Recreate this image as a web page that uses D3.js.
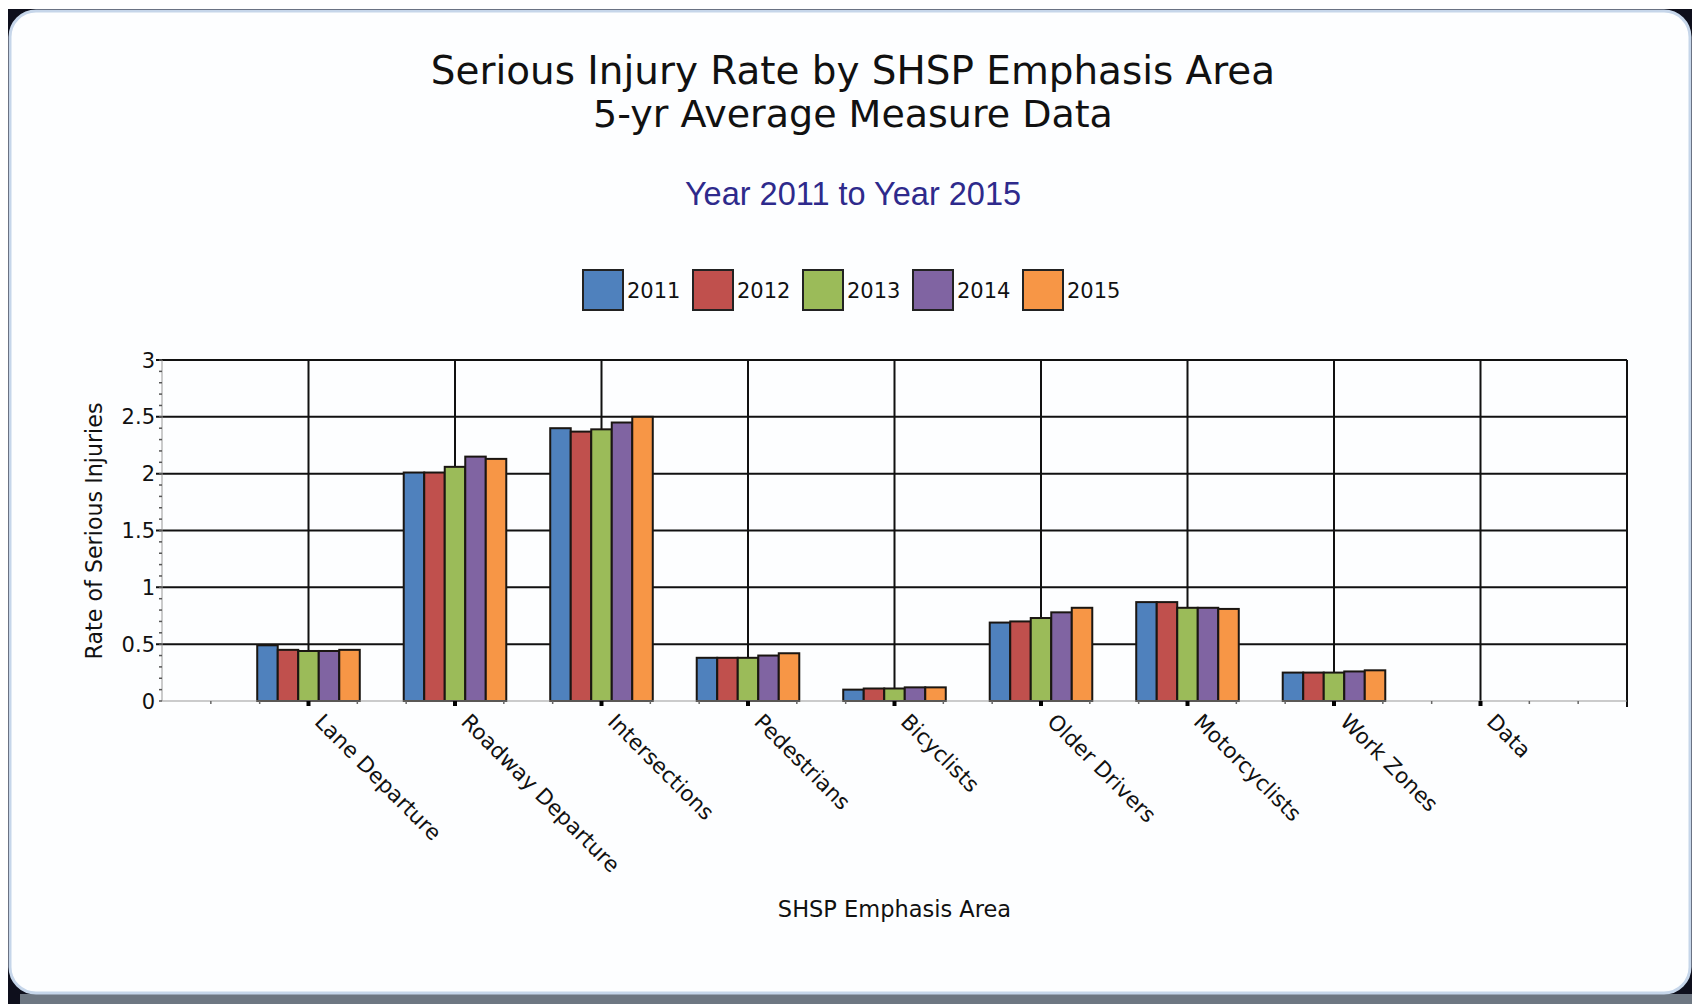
<!DOCTYPE html>
<html>
<head>
<meta charset="utf-8">
<script src="https://cdn.jsdelivr.net/npm/d3@7"></script>
<style>
    body { margin: 0; background: #fff; }
    text { font-family: "DejaVu Sans", Verdana, sans-serif; fill: #111; }
</style>
</head>
<body>
<script>
/**
 * Data.
 */
const categories = ['Lane Departure', 'Roadway Departure', 'Intersections', 'Pedestrians', 'Bicyclists',
    'Older Drivers', 'Motorcyclists', 'Work Zones', 'Data'];
const years = ['2011', '2012', '2013', '2014', '2015'];
const rates2011 = [0.49, 2.01, 2.40, 0.38, 0.10, 0.69, 0.87, 0.25, null];
const rates2012 = [0.45, 2.01, 2.37, 0.38, 0.11, 0.70, 0.87, 0.25, null];
const rates2013 = [0.44, 2.06, 2.39, 0.38, 0.11, 0.73, 0.82, 0.25, null];
const rates2014 = [0.44, 2.15, 2.45, 0.40, 0.12, 0.78, 0.82, 0.26, null];
const rates2015 = [0.45, 2.13, 2.50, 0.42, 0.12, 0.82, 0.81, 0.27, null];
const yTicks = [0, 0.5, 1, 1.5, 2, 2.5, 3];
const colors = ['#4f81bd', '#c0504d', '#9bbb59', '#8064a2', '#f79646'];

const series = [rates2011, rates2012, rates2013, rates2014, rates2015];

/**
 * Visual configs.
 */
const visWidth = 1692, visHeight = 1004;
const margin = { top: 360, right: 65, bottom: 303, left: 162 };
const width = visWidth - margin.left - margin.right,
    height = visHeight - margin.top - margin.bottom;

const svg = d3.select('body').append('svg')
    .attr('width', visWidth)
    .attr('height', visHeight);

// Window frame
svg.append('rect').attr('x', 8).attr('y', 9).attr('width', visWidth - 8).attr('height', visHeight - 9)
    .attr('fill', '#0e0f1c');
svg.append('rect').attr('x', 20).attr('y', 994).attr('width', visWidth - 20).attr('height', 10)
    .attr('fill', '#6e7782');
svg.append('rect').attr('x', 10).attr('y', 11).attr('width', 1680).attr('height', 982)
    .attr('rx', 26).attr('ry', 26)
    .attr('fill', '#fdfeff').attr('stroke', '#c6d6ea').attr('stroke-width', 3);

/**
 * Titles.
 */
const cx = 853;
svg.append('text').attr('x', cx).attr('y', 84).attr('text-anchor', 'middle')
    .style('font-size', '38.9px').text('Serious Injury Rate by SHSP Emphasis Area');
svg.append('text').attr('x', cx).attr('y', 127).attr('text-anchor', 'middle')
    .style('font-size', '38px').text('5-yr Average Measure Data');
svg.append('text').attr('x', cx).attr('y', 205).attr('text-anchor', 'middle')
    .style('font-family', '"Liberation Sans", Arial, sans-serif').style('font-size', '32.5px')
    .style('fill', '#2e2a8c').text('Year 2011 to Year 2015');

/**
 * Legend.
 */
const legend = svg.append('g').attr('transform', 'translate(583,270)');
const legendItem = legend.selectAll('g').data(years).join('g')
    .attr('transform', (d, i) => 'translate(' + i * 110 + ',0)');
legendItem.append('rect')
    .attr('width', 40).attr('height', 40)
    .attr('fill', (d, i) => colors[i])
    .attr('stroke', '#222').attr('stroke-width', 2);
legendItem.append('text')
    .attr('x', 44).attr('y', 28)
    .style('font-size', '21px')
    .text(d => d);

/**
 * Scales.
 */
const g = svg.append('g').attr('transform', 'translate(' + margin.left + ',' + margin.top + ')');

const x = d3.scalePoint().domain(categories).range([0, width]).padding(1);
const step = x.step();
const x1 = d3.scaleBand().domain(years).range([-step * 0.35, step * 0.35]);
const y = d3.scaleLinear().domain([0, 3]).range([height, 0]);

// Horizontal grid
g.append('g').selectAll('line').data(yTicks.filter(d => d > 0)).join('line')
    .attr('x1', -6).attr('x2', width)
    .attr('y1', d => y(d)).attr('y2', d => y(d))
    .attr('stroke', '#111').attr('stroke-width', 2);

// Vertical grid
g.append('g').selectAll('line').data(categories).join('line')
    .attr('x1', d => x(d)).attr('x2', d => x(d))
    .attr('y1', 0).attr('y2', height)
    .attr('stroke', '#111').attr('stroke-width', 2);

g.append('line').attr('x1', width).attr('x2', width).attr('y1', 0).attr('y2', height + 6)
    .attr('stroke', '#111').attr('stroke-width', 2);

/**
 * Bars.
 */
const groups = g.append('g').selectAll('g').data(categories).join('g')
    .attr('transform', d => 'translate(' + x(d) + ',0)');
groups.selectAll('rect')
    .data((d, ci) => years.map((yr, si) => ({ year: yr, idx: si, value: series[si][ci] }))
        .filter(v => v.value != null))
    .join('rect')
    .attr('x', d => x1(d.year))
    .attr('width', x1.bandwidth())
    .attr('y', d => y(d.value))
    .attr('height', d => y(0) - y(d.value))
    .attr('fill', d => colors[d.idx])
    .attr('stroke', '#1a1612').attr('stroke-width', 2);

/**
 * Axes.
 */
// Y axis
const yMinor = d3.range(0, 3.0001, 0.1);
g.append('line').attr('x1', 0).attr('x2', 0).attr('y1', 0).attr('y2', height)
    .attr('stroke', '#999').attr('stroke-width', 1);
g.append('g').selectAll('line').data(yMinor).join('line')
    .attr('x1', -3).attr('x2', 0)
    .attr('y1', d => y(d)).attr('y2', d => y(d))
    .attr('stroke', '#555').attr('stroke-width', 1.5);
g.append('g').selectAll('text').data(yTicks).join('text')
    .attr('x', -7).attr('y', d => y(d)).attr('dy', '0.36em')
    .attr('text-anchor', 'end')
    .style('font-size', '21px')
    .text(d => d);

// X axis
g.append('line').attr('x1', 0).attr('x2', width).attr('y1', height).attr('y2', height)
    .attr('stroke', '#999').attr('stroke-width', 1);
const xMinor = d3.range(1, 30).map(i => i * step / 3);
g.append('g').selectAll('line').data(xMinor).join('line')
    .attr('x1', d => d).attr('x2', d => d)
    .attr('y1', height).attr('y2', height + 3)
    .attr('stroke', '#666').attr('stroke-width', 1.5);
g.append('g').selectAll('line').data(categories).join('line')
    .attr('x1', d => x(d)).attr('x2', d => x(d))
    .attr('y1', height).attr('y2', height + 5)
    .attr('stroke', '#000').attr('stroke-width', 4);
g.append('g').selectAll('text').data(categories).join('text')
    .attr('transform', d => 'translate(' + (x(d) + 5) + ',' + (height + 22) + ') rotate(45)')
    .style('font-size', '21.5px')
    .text(d => d);

// Axis titles
g.append('text')
    .attr('transform', 'translate(-60,' + (531 - margin.top) + ') rotate(-90)')
    .attr('text-anchor', 'middle')
    .style('font-size', '22.2px')
    .text('Rate of Serious Injuries');
g.append('text')
    .attr('x', width / 2).attr('y', 917 - margin.top)
    .attr('text-anchor', 'middle')
    .style('font-size', '22.5px')
    .text('SHSP Emphasis Area');
</script>
</body>
</html>
